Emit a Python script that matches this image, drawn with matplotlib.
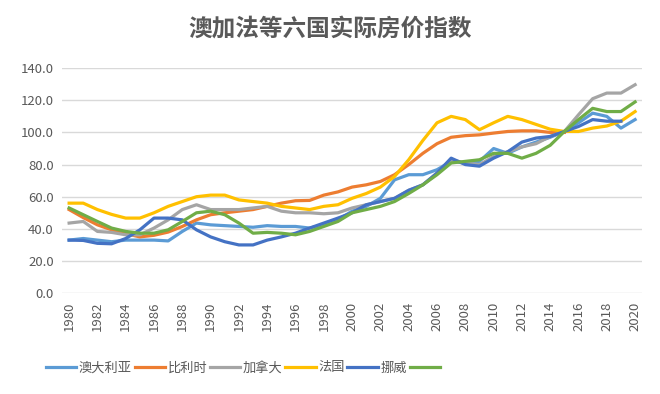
import numpy as np
import matplotlib.pyplot as plt
from matplotlib.lines import Line2D

plt.rcParams['font.family'] = ['Noto Sans CJK SC', 'DejaVu Sans']

years = list(range(1980, 2021))

australia = [33, 34, 33, 32, 33, 33, 33, 32.5, 38.4, 43.6,
             42.5, 42, 41.5, 41, 42, 41.5, 41.5, 40.5, 42.5, 45.6,
             51, 54, 59, 70.5, 73.7, 73.7, 76.8, 82, 81, 82,
             90, 87, 91, 94, 97, 100.6, 106, 112, 110, 102.7, 108]
belgium = [52, 47, 42.5, 39.4, 37, 35, 36, 38, 41.5, 45.6,
           48.8, 50, 51, 52, 54, 56, 57.5, 57.7, 61, 63,
           66, 67.4, 69.5, 73.7, 80, 87, 93, 97, 98, 98.5,
           99.6, 100.6, 101, 101, 100, 100, np.nan, np.nan, np.nan, np.nan, np.nan]
canada = [43.6, 44.6, 38.4, 37.8, 36.3, 36.3, 40.5, 45.6, 52, 55,
          52, 52, 52, 53, 54, 51, 50, 50, 49.4, 50,
          53, 55, 57, 59, 64, 67.4, 74.7, 83, 81, 80,
          85, 88, 91, 93, 97.5, 100.6, 111, 121, 124.5, 124.5, 129.7]
france = [56, 56, 52, 49, 46.7, 46.7, 50, 54, 57, 60,
          61, 61, 58, 57, 56, 54, 53, 52, 54, 55,
          59, 62, 66, 72.6, 83, 95, 106, 110, 108, 101.7,
          106, 110, 108, 105, 102, 100.6, 100.6, 102.7, 104, 107, 113]
norway = [33, 32.8, 31, 30.7, 34, 39.4, 46.7, 46.7, 45.6, 39.4,
          35, 32, 30, 30, 33, 35, 37.3, 40.5, 43.6, 46.7,
          50, 55, 57, 59, 64, 67.4, 74.7, 84, 80, 79,
          84, 88, 94, 96.5, 97.5, 100.6, 103.7, 108, 107, 107, np.nan]
green = [53, 48.8, 44.6, 40.5, 38.4, 37.3, 37.3, 39.4, 44.6, 50,
         51, 48.8, 43.6, 37.3, 37.8, 37.3, 36.3, 38.4, 41.5, 44.6,
         50, 52, 54, 57, 62, 67.4, 73.7, 81, 82, 83,
         87, 87, 84, 87, 92, 100.6, 108, 115, 113, 113, 119]

labels = ['澳大利亚', '比利时', '加拿大', '法国', '挪威', '']
colors = ['#5B9BD5', '#ED7D31', '#A5A5A5', '#FFC000', '#4472C4', '#70AD47']
series = [australia, belgium, canada, france, norway, green]

fig = plt.figure(figsize=(6.6, 3.94), dpi=100)
ax = fig.add_axes([0.094, 0.256, 0.879, 0.571])

x = np.arange(len(years))
handles = []
for vals, c in zip(series, colors):
    ax.plot(x, vals, color=c, lw=2.3, solid_joinstyle='round')
    handles.append(Line2D([], [], color=c, lw=2.3))

ax.set_xlim(-0.5, len(years) - 0.5)
ax.set_ylim(0, 140)
ax.set_yticks(np.arange(0, 141, 20))
ax.set_yticklabels([f'{v:.1f}' for v in np.arange(0, 141, 20)])
ax.set_xticks(x[::2])
ax.set_xticklabels([str(y) for y in years[::2]], rotation=90)
ax.tick_params(length=0, labelsize=9.5, colors='#595959', pad=6)
ax.grid(axis='y', color='#D9D9D9', lw=1)
ax.set_axisbelow(True)
for s in ax.spines.values():
    s.set_visible(False)

fig.suptitle('澳加法等六国实际房价指数', y=0.955, fontsize=17,
             fontweight='bold', color='#595959')

fig.legend(handles, labels, loc='center', bbox_to_anchor=(0.37, 0.066),
           ncol=6, frameon=False, fontsize=9.5, handlelength=2.3,
           columnspacing=0.2, handletextpad=0.2, labelcolor='#595959')

fig.savefig('out.png', dpi=100)
